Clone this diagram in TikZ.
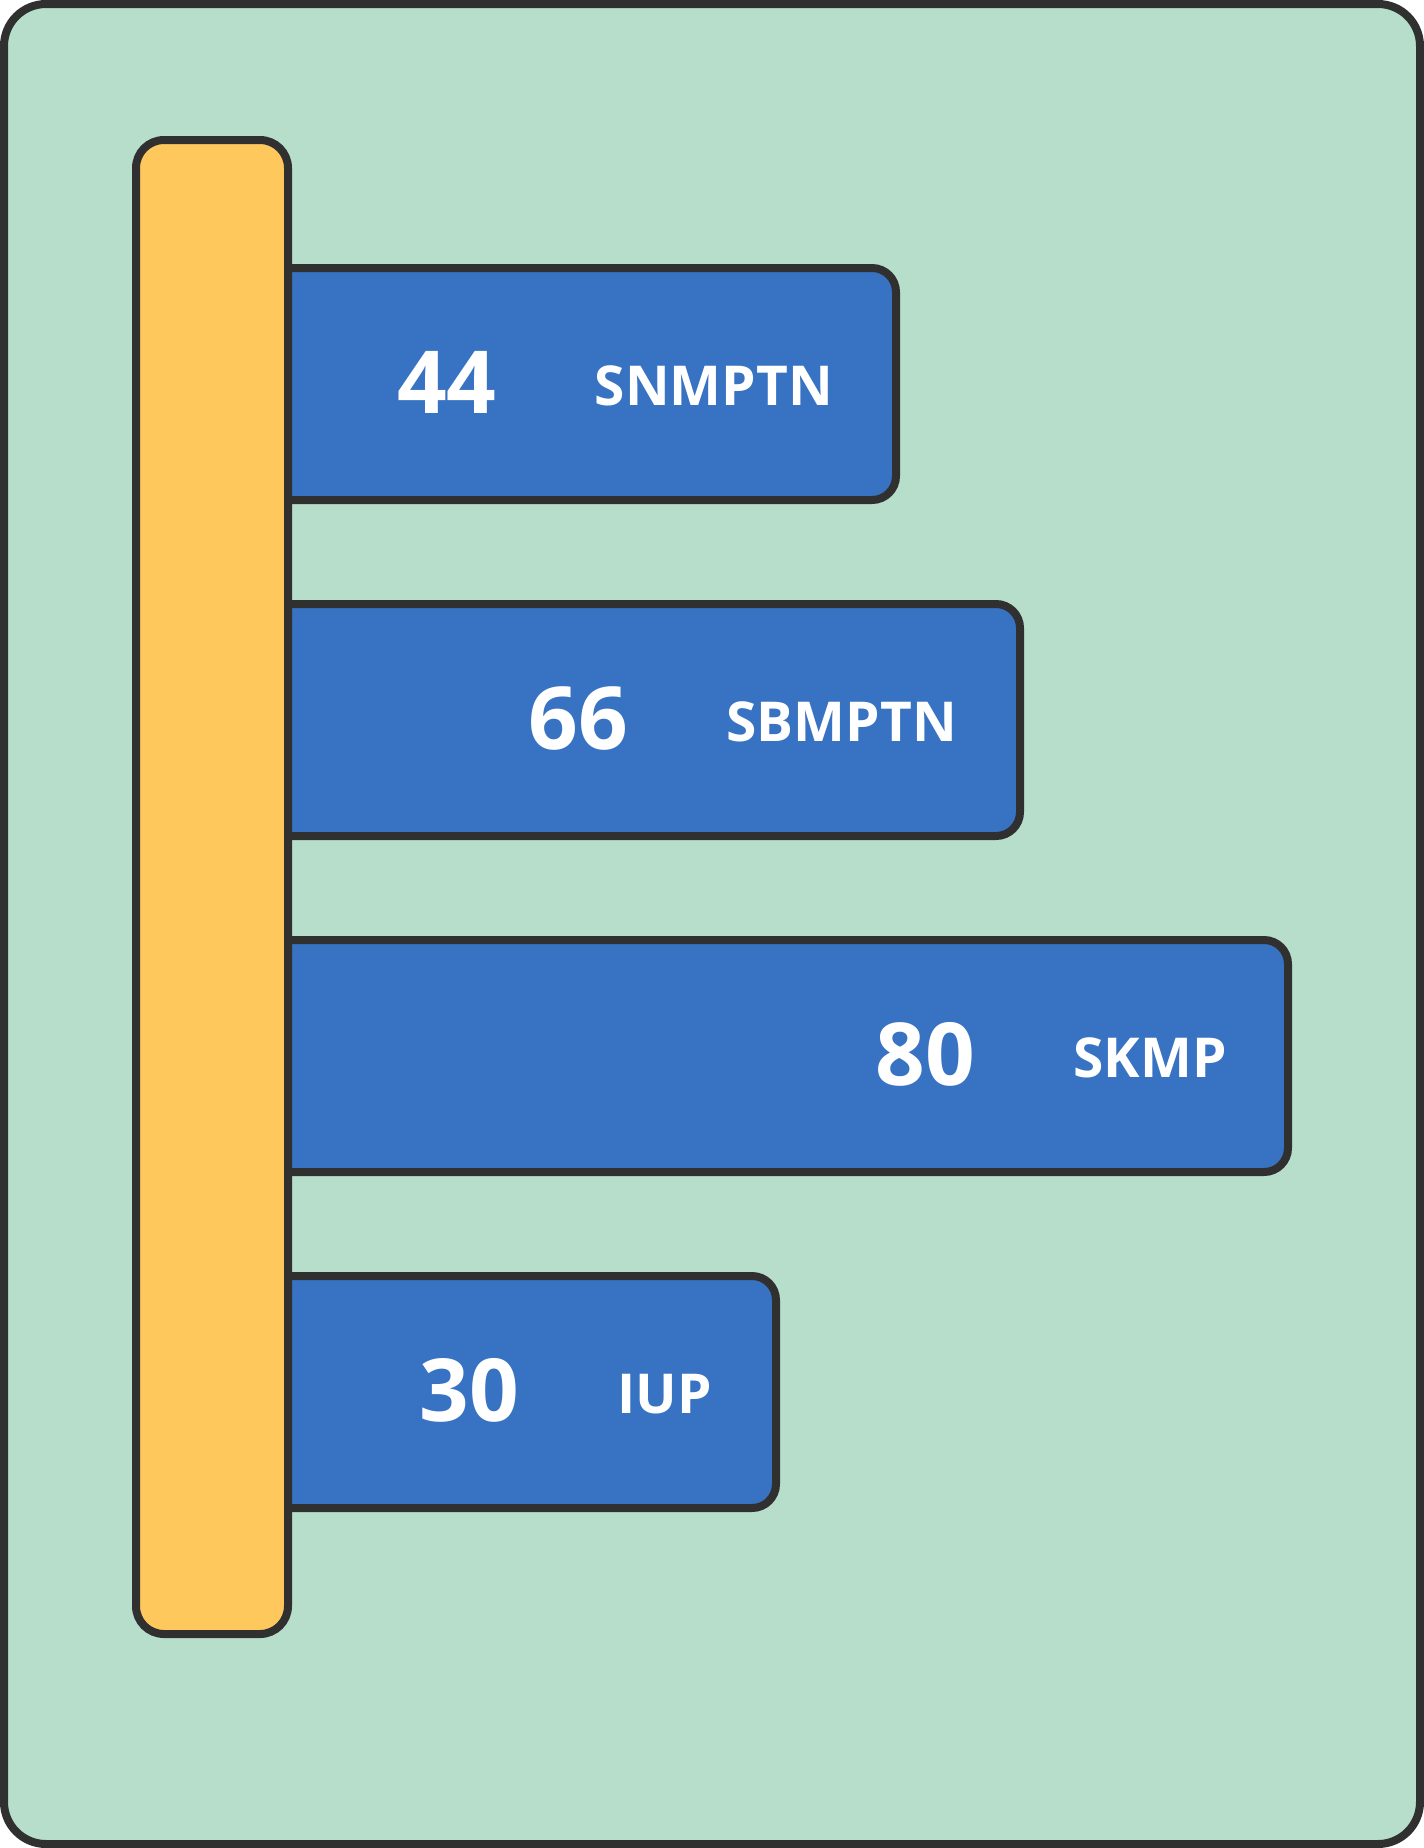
\documentclass[tikz,border=0pt]{standalone}
\usepackage{fontspec}
\setmainfont{Open Sans}[BoldFont={Open Sans Bold}]
\usetikzlibrary{calc}
\definecolor{bg}{HTML}{B6DECB}
\definecolor{ink}{HTML}{303030}
\definecolor{gold}{HTML}{FEC85D}
\definecolor{barblue}{HTML}{3873C3}
\begin{document}
\begin{tikzpicture}[x=1pt,y=-1pt,
  outline/.style={draw=ink, line width=8pt},
  panel/.style={outline, fill=bg, rounded corners=42pt},
  pillar/.style={outline, fill=gold, rounded corners=28pt},
  barbox/.style={outline, fill=barblue, rounded corners=24pt},
  numtext/.style={inner sep=0pt, text=white, font=\fontsize{87}{87}\selectfont\bfseries},
  labtext/.style={inner sep=0pt, text=white, font=\fontsize{55}{55}\selectfont\bfseries}]
\useasboundingbox (0,0) rectangle (1424,1848);
\draw[panel] (4,4) rectangle (1420,1844);
% bars
\draw[barbox] (200,268) rectangle (896,500);
\draw[barbox] (200,604) rectangle (1020,836);
\draw[barbox] (200,940) rectangle (1288,1172);
\draw[barbox] (200,1276) rectangle (776,1508);
% pillar
\draw[pillar] (136,140) rectangle (288,1634);
% labels
\node[labtext, anchor=base east] (l1) at (833,405.5) {SNMPTN};
\node[numtext, anchor=base east] (n1) at ($(l1.base west)+(-98,7.5)$) {44};
\node[labtext, anchor=base east] (l2) at (957,741.5) {SBMPTN};
\node[numtext, anchor=base east] (n2) at ($(l2.base west)+(-98,7.5)$) {66};
\node[labtext, anchor=base east] (l3) at (1227,1077.5) {SKMP};
\node[numtext, anchor=base east] (n3) at ($(l3.base west)+(-98,7.5)$) {80};
\node[labtext, anchor=base east] (l4) at (712,1413.5) {IUP};
\node[numtext, anchor=base east] (n4) at ($(l4.base west)+(-98,7.5)$) {30};
\end{tikzpicture}
\end{document}
